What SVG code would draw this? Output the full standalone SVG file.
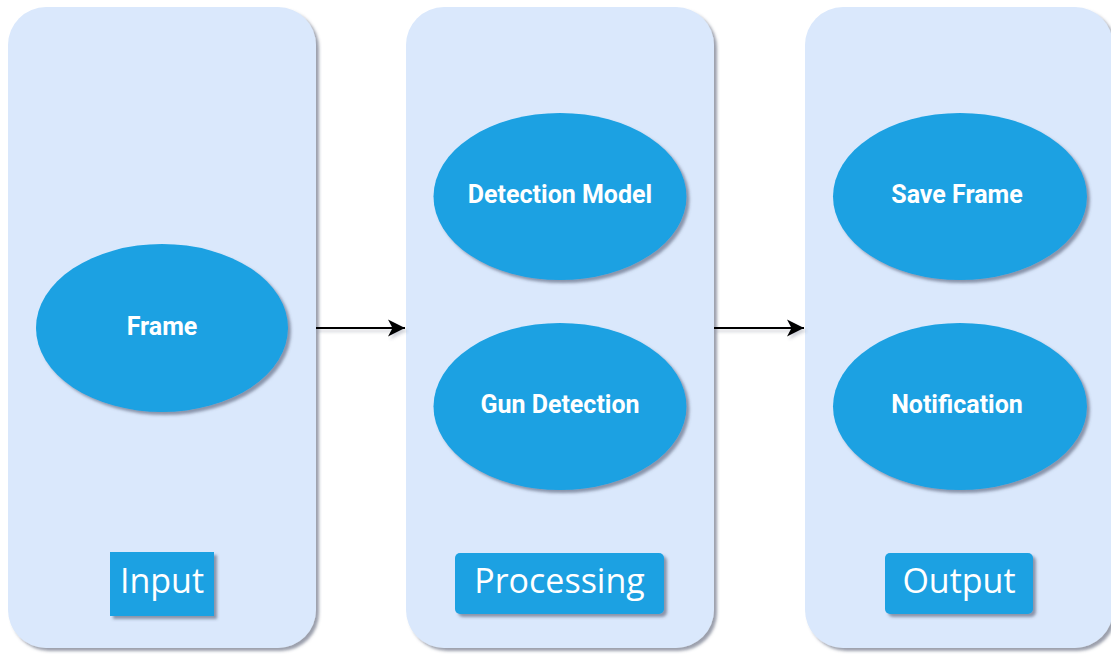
<svg xmlns="http://www.w3.org/2000/svg" width="1111" height="655" viewBox="0 0 1111 655">
  <defs>
    <filter id="shadow" x="-10%" y="-10%" width="125%" height="125%">
      <feDropShadow dx="3" dy="3" stdDeviation="1.4" flood-color="#4a5068" flood-opacity="0.55"/>
    </filter>
    <filter id="lineShadow" filterUnits="userSpaceOnUse" x="300" y="310" width="520" height="40">
      <feDropShadow dx="2" dy="3" stdDeviation="1.5" flood-color="#4a5068" flood-opacity="0.25"/>
    </filter>
    <marker id="arrow" viewBox="0 0 18 18" refX="17" refY="9" markerWidth="18" markerHeight="18" markerUnits="userSpaceOnUse" orient="auto">
      <path d="M17,9 L0,0.5 L4.5,9 L0,17.5 Z" fill="#000"/>
    </marker>
    <style>
      .lane { fill: #dae8fc; filter: url(#shadow); }
      .node { fill: #1ba1e2; filter: url(#shadow); }
      .tag { fill: #1ba1e2; filter: url(#shadow); }
      .nodeText { font-family: Roboto, "Liberation Sans", sans-serif; font-weight: bold; font-size: 25px; fill: #ffffff; text-anchor: middle; }
      .tagText { font-family: "Open Sans", "Liberation Sans", sans-serif; font-weight: 500; font-size: 34px; fill: #ffffff; text-anchor: middle; }
      .edge { stroke: #000; stroke-width: 1.8; fill: none; marker-end: url(#arrow); }
    </style>
  </defs>

  <rect width="1111" height="655" fill="#ffffff"/>

  <!-- Input lane -->
  <g id="lane-input">
    <rect class="lane" x="8" y="7" width="308" height="641" rx="38" ry="38"/>
    <g id="tag-input">
      <rect class="tag" x="110" y="552" width="104" height="64"/>
      <text class="tagText" x="162" y="593">Input</text>
    </g>
  </g>

  <!-- Processing lane -->
  <g id="lane-processing">
    <rect class="lane" x="406" y="7" width="308" height="641" rx="38" ry="38"/>
    <g id="tag-processing">
      <rect class="tag" x="455" y="553" width="209" height="61" rx="5" ry="5"/>
      <text class="tagText" x="559.5" y="593">Processing</text>
    </g>
  </g>

  <!-- Output lane -->
  <g id="lane-output">
    <rect class="lane" x="805" y="7" width="308" height="641" rx="38" ry="38"/>
    <g id="tag-output">
      <rect class="tag" x="885" y="553" width="148" height="61" rx="5" ry="5"/>
      <text class="tagText" x="959" y="593">Output</text>
    </g>
  </g>

  <!-- Nodes -->
  <g id="node-frame">
    <ellipse class="node" cx="162" cy="328" rx="126" ry="84"/>
    <text class="nodeText" x="162" y="335">Frame</text>
  </g>
  <g id="node-detection-model">
    <ellipse class="node" cx="560" cy="196.5" rx="126.5" ry="83.5"/>
    <text class="nodeText" x="560" y="203">Detection Model</text>
  </g>
  <g id="node-gun-detection">
    <ellipse class="node" cx="560" cy="406.5" rx="126.5" ry="83.5"/>
    <text class="nodeText" x="560" y="413">Gun Detection</text>
  </g>
  <g id="node-save-frame">
    <ellipse class="node" cx="960" cy="196.5" rx="127" ry="83.5"/>
    <text class="nodeText" x="957" y="203">Save Frame</text>
  </g>
  <g id="node-notification">
    <ellipse class="node" cx="960" cy="406.5" rx="127" ry="83.5"/>
    <text class="nodeText" x="957" y="413">Notification</text>
  </g>

  <!-- Connectors -->
  <g id="connectors" filter="url(#lineShadow)">
    <path class="edge" d="M316,328 L405,328"/>
    <path class="edge" d="M714,328 L804,328"/>
  </g>
</svg>
